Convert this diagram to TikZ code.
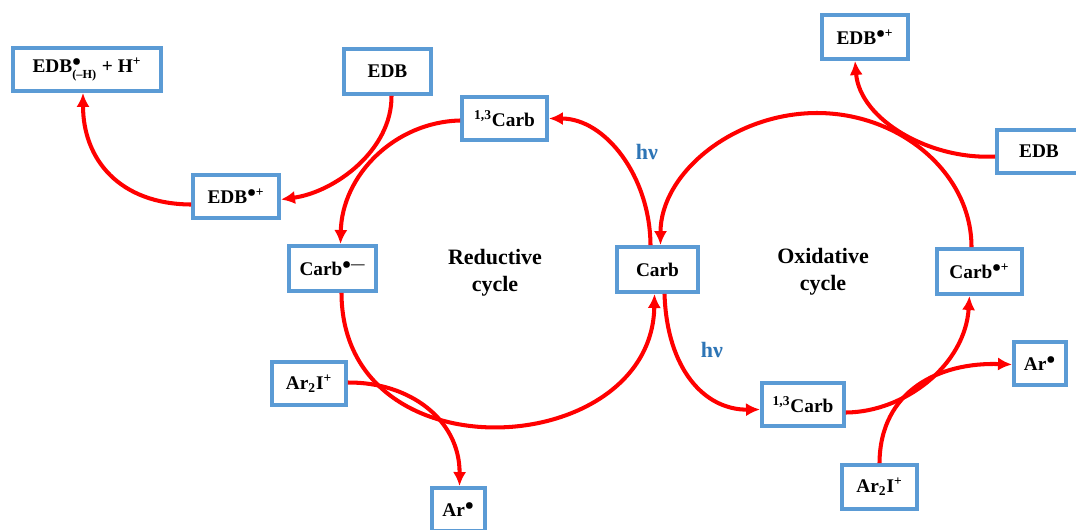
\documentclass[tikz,border=0pt]{standalone}
\usepackage{fontspec}
\setmainfont{Liberation Serif}
\usetikzlibrary{arrows.meta,calc}
\definecolor{boxblue}{RGB}{91,155,213}
\definecolor{arrred}{RGB}{255,0,0}
\definecolor{hvblue}{RGB}{46,117,182}
\newcommand{\radsup}[1]{\textsuperscript{$\bullet$#1}}
\begin{document}
\begin{tikzpicture}[x=0.02cm,y=-0.02cm,
  box/.style={draw=boxblue, line width=2.2pt, fill=white, inner sep=0pt,
    font=\fontsize{11}{13}\selectfont\bfseries\boldmath, align=center},
  rx/.style={draw=arrred, line width=2.3pt, -{Latex[length=8pt,width=7.5pt]}},
  lbl/.style={font=\fontsize{12.5}{15.3}\selectfont\bfseries, align=center},
  hv/.style={font=\fontsize{12.5}{15}\selectfont\bfseries, text=hvblue}]
\useasboundingbox (0,0) rectangle (1076,529);

% boxes
\node[box, minimum width=2.96cm, minimum height=0.86cm] (h) at (87,69.5)
  {EDB$^{\bullet}_{\mbox{\scriptsize\bfseries(–H)}}$ + H\textsuperscript{+}};
\node[box, minimum width=1.74cm, minimum height=0.90cm] (e1) at (387.5,71.5) {EDB};
\node[box, minimum width=1.70cm, minimum height=0.86cm] (t1) at (504.5,118.5) {\textsuperscript{1,3}Carb};
\node[box, minimum width=1.72cm, minimum height=0.86cm] (e2) at (236,196.5) {EDB\radsup{+}};
\node[box, minimum width=1.74cm, minimum height=0.90cm] (cm) at (332.5,268.5) {Carb\radsup{—}};
\node[box, minimum width=1.62cm, minimum height=0.90cm] (c) at (657.5,269.5) {Carb};
\node[box, minimum width=1.72cm, minimum height=0.88cm] (e4) at (865,37) {EDB\radsup{+}};
\node[box, minimum width=1.68cm, minimum height=0.86cm] (e3) at (1039,151.5) {EDB};
\node[box, minimum width=1.70cm, minimum height=0.90cm] (cp) at (979.5,271.5) {Carb\radsup{+}};
\node[box, minimum width=1.48cm, minimum height=0.86cm] (a1) at (309,383.5) {Ar\textsubscript{2}I\textsuperscript{+}};
\node[box, minimum width=1.06cm, minimum height=0.86cm] (r1) at (458.5,509.5) {Ar\radsup{}};
\node[box, minimum width=1.64cm, minimum height=0.86cm] (t2) at (803,404.5) {\textsuperscript{1,3}Carb};
\node[box, minimum width=1.04cm, minimum height=0.86cm] (r2) at (1040,363.5) {Ar\radsup{}};
\node[box, minimum width=1.50cm, minimum height=0.88cm] (a2) at (879.5,487) {Ar\textsubscript{2}I\textsuperscript{+}};

% labels
\node[lbl] (redlbl) at (495,272.5) {Reductive\\cycle};
\node[lbl] (oxlbl) at (823,271.5) {Oxidative\\cycle};
\node[hv] (hv1) at (647,152) {hν};
\node[hv] (hv2) at (712,350) {hν};

\coordinate (oxtop) at (817,113);

% connectors
\draw[rx] ($(t1.west)+(0,2)$) .. controls (395,122) and (342,175) .. ($(cm.north)+(8,0)$);
\draw[rx] ($(c.north)+(-7,0)$) .. controls (650,176) and (605,118.5) .. (t1.east);
\draw[rx] ($(cm.south)+(9,0)$) .. controls (342,480) and (652,460) .. ($(c.south)+(-3,0)$);
\draw[rx] ($(c.south)+(7,0)$) .. controls (667,370) and (705,410) .. ($(t2.west)+(0,5)$);
\draw[rx] ($(t2.east)+(0,8)$) .. controls (905,412) and (965,365) .. ($(cp.south)+(-10,0)$);
\draw[rx] ($(cp.north)+(-8,0)$) .. controls (971.5,173) and (900,113) .. (oxtop)
   .. controls (734,113) and (660.5,173) .. ($(c.north)+(3,0)$);
\draw[rx] ($(e1.south)+(4,0)$) .. controls (392,150) and (335,192) .. ($(e2.east)+(0,3)$);
\draw[rx] ($(e2.west)+(0,8)$) .. controls (120,204) and (83,160) .. ($(h.south)+(-4,0)$);
\draw[rx] ($(a1.east)+(0,-1)$) .. controls (410,382) and (460,420) .. ($(r1.north)+(1,0)$);
\draw[rx] ($(e3.west)+(0,5)$) .. controls (930,160) and (860,120) .. ($(e4.south)+(-10,0)$);
\draw[rx] (a2.north) .. controls (880,390) and (940,362) .. ($(r2.west)+(0,1)$);
\end{tikzpicture}
\end{document}
